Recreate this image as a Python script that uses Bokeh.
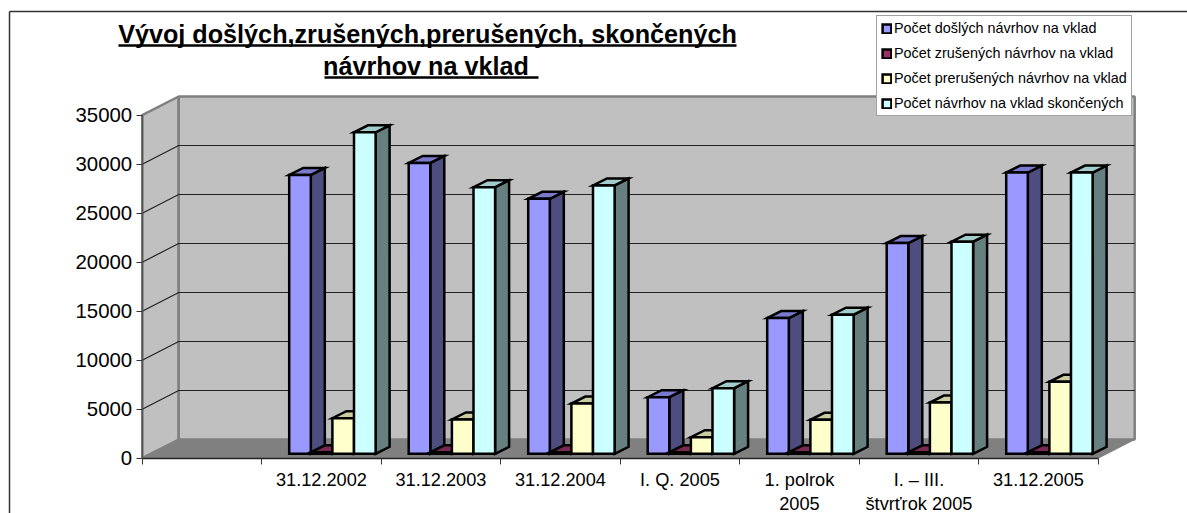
from bokeh.plotting import figure
from bokeh.models import FixedTicker, Legend, LegendItem, Range1d
from bokeh.core.properties import value
from bokeh.embed import file_html
from bokeh.resources import INLINE

categories = ["", "31.12.2002", "31.12.2003", "31.12.2004", "I. Q. 2005", "1. polrok\n2005", "I. – III.\nštvrťrok 2005", "31.12.2005"]
došlé = [None, 28450, 29680, 26020, 5775, 13850, 21500, 28700]
zrušené = [None, 150, 150, 150, 150, 150, 150, 150]
prerušené = [None, 3630, 3500, 5130, 1695, 3470, 5230, 7340]
skončené = [None, 32800, 27200, 27380, 6690, 14200, 21650, 28700]
names = ["Počet došlých návrhov na vklad", "Počet zrušených návrhov na vklad",
         "Počet prerušených návrhov na vklad", "Počet návrhov na vklad skončených"]
title_lines = ["Vývoj došlých,zrušených,prerušených, skončených", "návrhov na vklad "]
y_ticks = [0, 5000, 10000, 15000, 20000, 25000, 30000, 35000]
fronts = ["#9999FF", "#993366", "#FFFFCC", "#CCFFFF"]
tops = ["#7A7ACC", "#7A2952", "#CCCCA3", "#A3CCCC"]
sides = ["#4D4D80", "#4D1A33", "#808066", "#668080"]
WALL, FLOOR, WALL_EDGE = "#C0C0C0", "#808080", "#808080"

W, H = 1187, 513
X0, XSTEP = 141.7, 119.5      # px of category edge 0, px per category
Y0, YSCALE = 457.7, 343.0 / 35000   # px of value 0, px per unit

p = figure(width=W, height=H, output_backend="svg", toolbar_location=None,
           min_border=0, margin=(0, 0, 0, 0),
           x_range=Range1d(-X0 / XSTEP, (W - X0) / XSTEP),
           y_range=Range1d((Y0 - H) / YSCALE, Y0 / YSCALE),
           outline_line_color=None, background_fill_color="white", border_fill_color="white")
p.grid.visible = False

dx = lambda px: px / XSTEP      # px widths in data units
dy = lambda px: px / YSCALE
sx = lambda px: (px - X0) / XSTEP    # absolute px
sy = lambda px: (Y0 - px) / YSCALE

# chart border
p.segment(sx(9), sy(11), sx(1187), sy(11), line_color="#333333", line_width=1.5)
p.segment(sx(9), sy(11), sx(9), sy(513), line_color="#333333", line_width=1.5)

# walls and floor
DX, DY = 36.5, 18.7
n = len(categories)
p.patch([0, dx(DX), dx(DX), 0], [0, dy(DY), 35000 + dy(DY), 35000],
        fill_color=WALL, line_color=WALL_EDGE, line_width=2.5)
p.patch([dx(DX), n + dx(DX), n + dx(DX), dx(DX)], [dy(DY), dy(DY), 35000 + dy(DY), 35000 + dy(DY)],
        fill_color=WALL, line_color=WALL_EDGE, line_width=2.5)
for v in y_ticks[1:-1]:
    p.line([0, dx(DX), n + dx(DX)], [v, v + dy(DY), v + dy(DY)], line_color="#222222", line_width=1.2)
p.patch([0, n, n + dx(DX), dx(DX)], [0, 0, dy(DY), dy(DY)], fill_color=FLOOR, line_color=FLOOR, line_width=1)

# bars
BW, BDX, BDY = 21.6, 14.0, 7.0
OFF, BASE = 27.5, 4.4
legend_items = []
for s, vals in enumerate([došlé, zrušené, prerušené, skončené]):
    xs = [i for i, v in enumerate(vals) if v is not None]
    hs = [vals[i] for i in xs]
    b = dy(BASE)
    left = [i + dx(OFF + s * BW) for i in xs]
    right = [l + dx(BW) for l in left]
    top = [h + b for h in hs]
    lw = 2.5
    side_x = [[r, r + dx(BDX), r + dx(BDX), r] for r in right]
    side_y = [[b, b + dy(BDY), t + dy(BDY), t] for t in top]
    top_x = [[l, r, r + dx(BDX), l + dx(BDX)] for l, r in zip(left, right)]
    top_y = [[t, t, t + dy(BDY), t + dy(BDY)] for t in top]
    p.patches(side_x, side_y, fill_color=sides[s], line_color="black", line_width=lw, line_join="miter")
    p.patches(top_x, top_y, fill_color=tops[s], line_color="black", line_width=lw, line_join="miter")
    q = p.quad(left=left, right=right, bottom=[b] * len(xs), top=top,
               fill_color=fronts[s], line_color="black", line_width=lw, line_join="miter")
    legend_items.append(LegendItem(label=names[s], renderers=[q]))

# axes
ya = p.yaxis[0]
ya.fixed_location = 0
ya.ticker = FixedTicker(ticks=y_ticks, minor_ticks=[])
ya.bounds = (0, 35000)
ya.major_tick_in = 0
ya.major_tick_out = 6
ya.major_tick_line_color = "#333333"
ya.axis_line_color = "#555555"
ya.axis_line_width = 1.5
ya.major_label_text_font = "Liberation Sans"
ya.major_label_text_font_size = "20.4px"
ya.major_label_text_color = "black"
ya.major_label_standoff = 4

xa = p.xaxis[0]
xa.fixed_location = 0
centers = [i + 0.5 for i in range(n)]
xa.ticker = FixedTicker(ticks=centers, minor_ticks=list(range(n + 1)))
xa.major_label_overrides = {c: l for c, l in zip(centers, categories)}
xa.bounds = (0, n)
xa.major_tick_in = 0
xa.major_tick_out = 0
xa.minor_tick_in = 0
xa.minor_tick_out = 6
xa.minor_tick_line_color = "#333333"
xa.axis_line_color = "#222222"
xa.axis_line_width = 1.5
xa.major_label_text_font = "Liberation Sans"
xa.major_label_text_font_size = "18.2px"
xa.major_label_text_color = "black"
xa.major_label_standoff = 6

# title
TITLE_X, TITLE_Y = [427, 429], [33, 65]
for line, tx, ty in zip(title_lines, TITLE_X, TITLE_Y):
    p.text([sx(tx)], [sy(ty)], text=[line], text_font=value("Liberation Sans"), text_font_style="bold",
           text_font_size="25.2px", text_align="center", text_baseline="middle", text_color="black")
p.segment(sx(118), sy(45), sx(736), sy(45), line_color="black", line_width=2.5)
p.segment(sx(324), sy(77), sx(538), sy(77), line_color="black", line_width=2.5)

legend = Legend(items=legend_items, location=(876, H - 116), orientation="vertical",
                label_text_font="Liberation Sans", label_text_font_size="14.4px", label_text_color="black",
                glyph_width=11, glyph_height=11, label_standoff=2, spacing=9, padding=4, margin=0,
                border_line_color="#444444", border_line_width=1, background_fill_color="white", background_fill_alpha=1)
p.add_layout(legend)

open("out.html", "w").write(file_html(p, INLINE))
